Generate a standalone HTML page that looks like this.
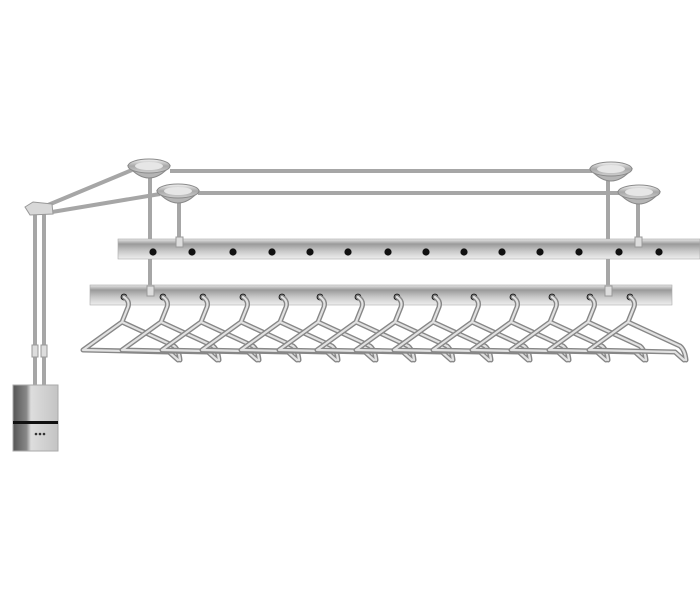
<!DOCTYPE html>
<html><head><style>html,body{margin:0;padding:0;background:#fff;width:700px;height:600px;overflow:hidden}</style></head>
<body>
<svg width="700" height="600" viewBox="0 0 700 600" xmlns="http://www.w3.org/2000/svg">
<defs>
<linearGradient id="bar" x1="0" y1="0" x2="0" y2="1">
<stop offset="0" stop-color="#e8e8e8"/><stop offset="0.25" stop-color="#9a9a9a"/><stop offset="0.6" stop-color="#c8c8c8"/><stop offset="1" stop-color="#eeeeee"/></linearGradient>
<linearGradient id="cup" x1="0" y1="0" x2="0" y2="1">
<stop offset="0" stop-color="#f4f4f4"/><stop offset="0.5" stop-color="#a8a8a8"/><stop offset="1" stop-color="#d0d0d0"/></linearGradient>
<linearGradient id="box" x1="0" y1="0" x2="1" y2="0">
<stop offset="0" stop-color="#555"/><stop offset="0.3" stop-color="#888"/><stop offset="0.4" stop-color="#ddd"/><stop offset="1" stop-color="#c4c4c4"/></linearGradient>
<g id="cupg"><path d="M-21,-2 Q0,22 21,-2 Z" fill="#b5b5b5" stroke="#8a8a8a"/><ellipse cx="0" cy="-2" rx="21" ry="7" fill="url(#cup)" stroke="#8a8a8a" stroke-width="1"/><ellipse cx="0" cy="-2" rx="14" ry="4" fill="#e6e6e6"/></g>
<g id="hanger" fill="none" stroke-linecap="round" stroke-linejoin="round">
<path d="M0,0 Q6,4 4,10 L-2,25 L-41,53 L45,55 L54,63 M-2,25 L50,49 Q55,53 56,63" stroke="#878787" stroke-width="5"/>
<path d="M0,0 Q6,4 4,10 L-2,25 L-41,53 L45,55 L54,63 M-2,25 L50,49 Q55,53 56,63" stroke="#e2e2e2" stroke-width="2.2"/>
</g>
</defs>
<g stroke="#a6a6a6" stroke-width="4" fill="none">
<line x1="170" y1="171" x2="592" y2="171"/>
<line x1="198" y1="193" x2="620" y2="193"/>
<line x1="48" y1="205" x2="132" y2="170"/>
<line x1="52" y1="212" x2="160" y2="194"/>
<line x1="150" y1="176" x2="150" y2="295"/>
<line x1="179" y1="200" x2="179" y2="245"/>
<line x1="608" y1="178" x2="608" y2="295"/>
<line x1="638" y1="202" x2="638" y2="245"/>
<line x1="35" y1="212" x2="35" y2="388"/>
<line x1="44" y1="212" x2="44" y2="388"/>
</g>
<rect x="32" y="345" width="6" height="12" fill="#ddd" stroke="#999"/>
<rect x="41" y="345" width="6" height="12" fill="#ddd" stroke="#999"/>
<path d="M25,207 L33,202 L52,204 L53,214 L30,215 Z" fill="#d8d8d8" stroke="#999"/>
<use href="#cupg" x="149" y="168"/><use href="#cupg" x="178" y="193"/>
<use href="#cupg" x="611" y="171"/><use href="#cupg" x="639" y="194"/>
<rect x="118" y="239" width="582" height="20" fill="url(#bar)" stroke="#aaa" stroke-width="0.6"/>
<rect x="90" y="285" width="582" height="20" fill="url(#bar)" stroke="#aaa" stroke-width="0.6"/>
<g fill="#111">
<circle cx="153" cy="252" r="3.6"/><circle cx="192" cy="252" r="3.6"/><circle cx="233" cy="252" r="3.6"/><circle cx="272" cy="252" r="3.6"/><circle cx="310" cy="252" r="3.6"/><circle cx="348" cy="252" r="3.6"/><circle cx="388" cy="252" r="3.6"/><circle cx="426" cy="252" r="3.6"/><circle cx="464" cy="252" r="3.6"/><circle cx="502" cy="252" r="3.6"/><circle cx="540" cy="252" r="3.6"/><circle cx="579" cy="252" r="3.6"/><circle cx="619" cy="252" r="3.6"/><circle cx="659" cy="252" r="3.6"/>
</g>
<rect x="176" y="237" width="7" height="10" fill="#ddd" stroke="#999"/>
<rect x="635" y="237" width="7" height="10" fill="#ddd" stroke="#999"/>
<rect x="147" y="286" width="7" height="10" fill="#ddd" stroke="#999"/>
<rect x="605" y="286" width="7" height="10" fill="#ddd" stroke="#999"/>
<g fill="#111">
<circle cx="124" cy="297" r="3.4"/><circle cx="163" cy="297" r="3.4"/><circle cx="203" cy="297" r="3.4"/><circle cx="243" cy="297" r="3.4"/><circle cx="282" cy="297" r="3.4"/><circle cx="320" cy="297" r="3.4"/><circle cx="358" cy="297" r="3.4"/><circle cx="397" cy="297" r="3.4"/><circle cx="435" cy="297" r="3.4"/><circle cx="474" cy="297" r="3.4"/><circle cx="513" cy="297" r="3.4"/><circle cx="552" cy="297" r="3.4"/><circle cx="590" cy="297" r="3.4"/><circle cx="630" cy="297" r="3.4"/>
</g>
<use href="#hanger" x="124" y="297"/><use href="#hanger" x="163" y="297"/><use href="#hanger" x="203" y="297"/><use href="#hanger" x="243" y="297"/><use href="#hanger" x="282" y="297"/><use href="#hanger" x="320" y="297"/><use href="#hanger" x="358" y="297"/><use href="#hanger" x="397" y="297"/><use href="#hanger" x="435" y="297"/><use href="#hanger" x="474" y="297"/><use href="#hanger" x="513" y="297"/><use href="#hanger" x="552" y="297"/><use href="#hanger" x="590" y="297"/><use href="#hanger" x="630" y="297"/>
<rect x="13" y="385" width="45" height="66" fill="url(#box)" stroke="#aaa"/>
<rect x="13" y="421" width="45" height="3" fill="#111"/>
<g fill="#333"><circle cx="36" cy="434" r="1.3"/><circle cx="40" cy="434" r="1.3"/><circle cx="44" cy="434" r="1.3"/></g>
</svg>
</body></html>
